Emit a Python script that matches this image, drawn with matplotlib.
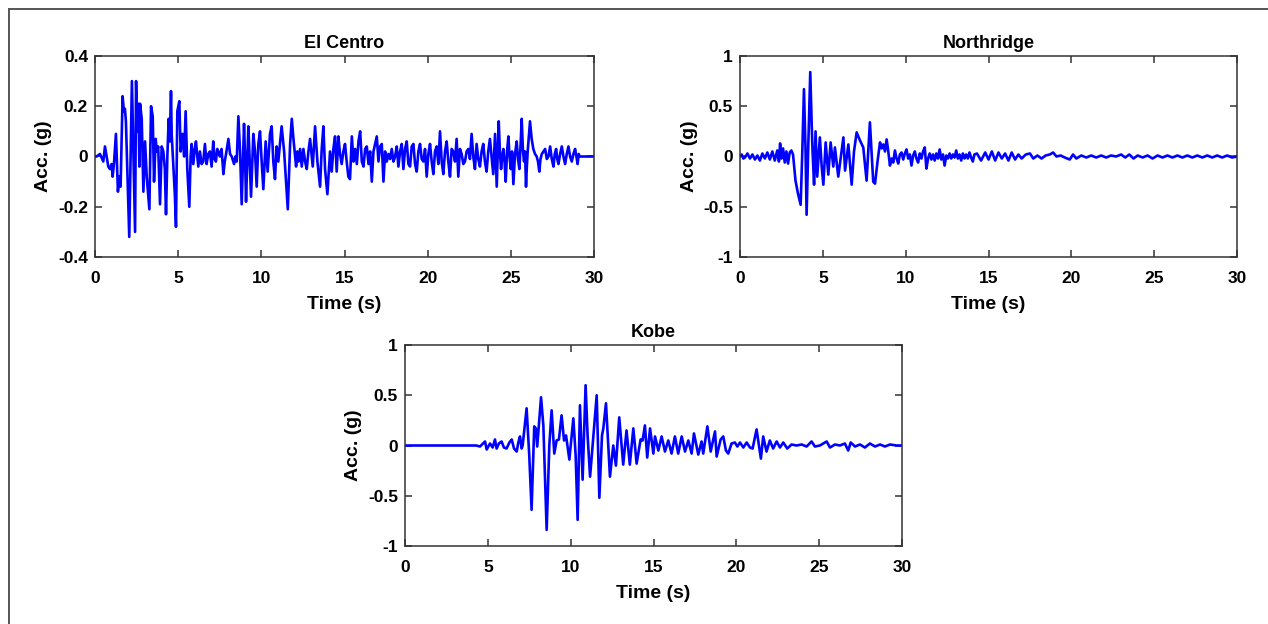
"""
Ground-motion acceleration records (El Centro, Northridge, Kobe) plotted
as three time-history panels.
"""

import matplotlib.pyplot as plt
from matplotlib.lines import Line2D
from matplotlib.ticker import FuncFormatter

plt.rcParams['font.family'] = ['Liberation Sans', 'DejaVu Sans']
plt.rcParams['font.weight'] = 'bold'
plt.rcParams['axes.unicode_minus'] = False

# El Centro record: time (s), acceleration (g)
el_centro_t = [
    0.00, 0.10, 0.30, 0.50, 0.60, 0.70, 0.80, 0.90, 1.00, 1.06, 1.14, 1.26,
    1.38, 1.46, 1.54, 1.66, 1.74, 1.80, 1.86, 1.90, 2.06, 2.22, 2.30, 2.41,
    2.47, 2.55, 2.61, 2.67, 2.71, 2.81, 2.91, 3.01, 3.11, 3.27, 3.37, 3.47,
    3.55, 3.65, 3.71, 3.80, 3.91, 4.01, 4.11, 4.20, 4.27, 4.35, 4.43, 4.50,
    4.57, 4.61, 4.71, 4.80, 4.87, 4.95, 5.07, 5.15, 5.27, 5.36, 5.45, 5.55,
    5.67, 5.75, 5.81, 5.91, 6.00, 6.07, 6.21, 6.31, 6.41, 6.51, 6.61, 6.71,
    6.81, 6.91, 7.01, 7.11, 7.19, 7.27, 7.35, 7.42, 7.51, 7.61, 7.72, 7.80,
    7.88, 7.95, 8.02, 8.12, 8.22, 8.36, 8.44, 8.52,
    8.62, 8.72, 8.82, 8.96, 9.02, 9.08, 9.22, 9.28, 9.38, 9.52, 9.62, 9.72,
    9.82, 9.92, 10.02, 10.12, 10.26, 10.38, 10.52, 10.62, 10.72, 10.82, 10.92,
    11.02, 11.12, 11.22, 11.37, 11.59, 11.73, 11.83, 11.93, 12.09, 12.16,
    12.23, 12.33, 12.43, 12.53, 12.63, 12.73, 12.83, 12.93, 13.09, 13.23,
    13.37, 13.53, 13.63, 13.73, 13.83, 13.97, 14.13, 14.23, 14.33, 14.43,
    14.53, 14.63, 14.73, 14.83, 14.93, 15.03, 15.13,
    15.23, 15.33, 15.44, 15.54, 15.64, 15.74, 15.84, 15.94, 16.04, 16.14,
    16.24, 16.34, 16.44, 16.54, 16.64, 16.74, 16.84, 16.94, 17.04, 17.14,
    17.24, 17.34, 17.44, 17.54, 17.64, 17.74, 17.84, 17.94, 18.04, 18.14,
    18.24, 18.34, 18.44, 18.54, 18.64, 18.74, 18.84, 18.94, 19.04, 19.14,
    19.24, 19.34, 19.44, 19.54, 19.64, 19.74, 19.84, 19.94, 20.04, 20.14,
    20.24, 20.34, 20.44, 20.54, 20.64, 20.74, 20.84, 20.94, 21.04, 21.14,
    21.24, 21.34, 21.44, 21.54, 21.64, 21.74, 21.84, 21.94, 22.04, 22.14,
    22.24, 22.34, 22.44, 22.54, 22.64, 22.74, 22.84, 22.94, 23.04, 23.14,
    23.24, 23.34, 23.44, 23.54, 23.64, 23.74, 23.84, 23.94, 24.05, 24.15,
    24.27, 24.34, 24.41, 24.48, 24.55, 24.62, 24.69, 24.77, 24.85, 24.92,
    24.99, 25.07, 25.15, 25.25, 25.35, 25.43, 25.51, 25.58, 25.65, 25.72,
    25.79, 25.85, 25.91, 25.96, 26.01, 26.08, 26.15, 26.25, 26.35, 26.45,
    26.55, 26.63, 26.71, 26.78, 26.86, 26.96, 27.06, 27.16, 27.26, 27.36,
    27.46, 27.56, 27.64, 27.72, 27.79, 27.86, 27.96, 28.06, 28.16, 28.26,
    28.36, 28.46, 28.56, 28.66, 28.76, 28.86, 28.94, 29.01, 29.08, 29.13,
    30.00,
]
el_centro_acc = [
    0.00, 0.00, 0.01, -0.02, 0.04, 0.00, -0.04, -0.05, -0.03, -0.08, -0.03, 0.09,
    -0.14, -0.08, -0.12, 0.24, 0.18, 0.19, 0.14, 0.05, -0.32, 0.30, 0.05, -0.30,
    0.30, 0.10, 0.21, -0.04, 0.21, 0.15, -0.14, 0.06, -0.08, -0.21, 0.20, 0.16,
    -0.10, 0.07, 0.02, 0.04, -0.19, 0.04, 0.02, -0.05, -0.23, 0.00, 0.15, 0.06,
    0.26, 0.09, -0.04, -0.15, -0.28, 0.18, 0.22, 0.02, 0.09, 0.00, 0.18, -0.05,
    -0.20, 0.00, 0.05, -0.03, 0.03, 0.06, -0.04, 0.02, -0.03, -0.02, 0.05, -0.03,
    0.01, 0.02, -0.04, 0.06, -0.01, -0.02, 0.03, 0.02, 0.00, 0.03, -0.07, -0.02,
    0.01, 0.04, 0.07, 0.01, 0.00, -0.03, 0.00, -0.02,
    0.16, 0.02, -0.19, 0.13, 0.00, -0.18, 0.12, 0.02, -0.16, 0.09, 0.02, -0.12,
    0.05, 0.10, -0.02, -0.13, 0.06, -0.06, 0.09, 0.12, -0.02, -0.09, 0.04,
    -0.02, 0.05, 0.12, 0.02, -0.21, 0.05, 0.15, 0.07, -0.04, 0.02,
    -0.02, 0.03, -0.04, 0.03, -0.02, -0.05, 0.02, 0.07, -0.04, 0.12,
    -0.02, -0.12, 0.03, 0.12, -0.05, -0.15, 0.02, -0.06, 0.03, 0.08,
    -0.06, 0.08, 0.01, -0.03, 0.02, 0.05, -0.02,
    -0.08, -0.09, 0.08, -0.02, 0.03, -0.03, 0.06, 0.10, -0.02, -0.04,
    0.03, 0.04, -0.03, 0.02, -0.10, 0.02, 0.05, 0.08, -0.02, 0.04,
    0.05, -0.10, 0.02, -0.02, 0.01, -0.01, 0.03, -0.02, 0.00, 0.04,
    -0.04, 0.02, 0.05, -0.05, 0.03, 0.06, -0.03, -0.04, 0.04, 0.05,
    -0.03, -0.06, 0.02, 0.05, -0.01, -0.02, 0.03, -0.08, 0.01, 0.05,
    -0.02, -0.07, 0.02, 0.04, -0.03, 0.10, -0.02, -0.07, 0.02, 0.06,
    -0.02, -0.08, 0.03, 0.02, -0.02, 0.07, -0.08, 0.03, 0.01, -0.03,
    -0.02, 0.02, 0.03, -0.01, 0.09, 0.00, -0.05, 0.05, -0.01, -0.04,
    0.02, 0.05, -0.02, -0.06, 0.02, 0.07, 0.00, -0.07, 0.09, -0.12,
    0.14, 0.02, -0.05, 0.00, 0.03, -0.02, -0.10, 0.02, 0.08, 0.00,
    -0.05, 0.02, -0.11, 0.01, 0.06, -0.01, -0.05, 0.04, 0.15, 0.03,
    -0.02, 0.02, -0.12, -0.04, 0.02, 0.08, 0.14, 0.07, 0.03, 0.01,
    0.00, -0.02, -0.06, -0.01, 0.01, 0.02, 0.03, -0.01, 0.00, 0.04,
    -0.01, -0.04, 0.01, 0.03, -0.01, -0.03, 0.01, 0.04, 0.00, -0.03,
    0.01, 0.04, 0.00, -0.02, 0.01, 0.03, 0.00, -0.03, 0.01, 0.00,
    0.00,
]

# Northridge record
northridge_t = [
    0.00, 0.10, 0.20, 0.30, 0.45, 0.60, 0.75, 0.90, 1.05, 1.20, 1.35, 1.50,
    1.65, 1.80, 1.95, 2.10, 2.25, 2.35, 2.42, 2.50, 2.60, 2.70, 2.80, 2.90,
    3.00, 3.10, 3.20, 3.35, 3.50, 3.66, 3.76, 3.86, 3.95, 4.02, 4.12, 4.24,
    4.33, 4.38, 4.47, 4.56, 4.66, 4.82, 4.93, 5.03, 5.17, 5.33, 5.47, 5.63,
    5.73, 5.93, 6.24, 6.34, 6.54, 6.74, 6.88, 7.04, 7.24, 7.44, 7.64, 7.84,
    8.04, 8.15, 8.30, 8.45, 8.55, 8.65, 8.75, 8.85, 8.95, 9.05, 9.15, 9.25,
    9.35, 9.45, 9.55, 9.65, 9.75, 9.85, 9.95, 10.05, 10.15, 10.25, 10.35,
    10.45, 10.55, 10.65, 10.75, 10.85, 10.95, 11.05, 11.15, 11.25, 11.35,
    11.45, 11.55, 11.65, 11.75, 11.85, 11.95, 12.05, 12.15, 12.25, 12.35,
    12.45, 12.55, 12.65, 12.75, 12.85, 12.95, 13.05, 13.15, 13.25, 13.35,
    13.45, 13.55, 13.65, 13.75, 13.85, 13.95, 14.05, 14.15,
    14.30, 14.55, 14.80, 15.00, 15.20, 15.40, 15.60, 15.80, 16.00, 16.20,
    16.40, 16.60, 16.80, 17.00, 17.25, 17.50, 17.70, 17.95, 18.20, 18.45,
    18.70, 18.90, 19.10, 19.35, 19.60, 19.90, 20.10, 20.30, 20.60, 20.90,
    21.20, 21.50, 21.80, 22.10, 22.40, 22.70, 23.00, 23.25, 23.50, 23.75,
    24.00, 24.30, 24.60, 24.90, 25.20, 25.50, 25.80, 26.10, 26.40, 26.70,
    27.00, 27.30, 27.60, 27.90, 28.20, 28.50, 28.80, 29.10, 29.40, 29.70,
    30.00,
]
northridge_acc = [
    0.00, 0.02, -0.02, -0.01, 0.03, -0.02, 0.02, -0.03, 0.01, -0.04, 0.03, -0.02,
    0.04, -0.03, 0.05, -0.04, 0.06, -0.05, 0.13, -0.02, 0.08, -0.06, 0.05, -0.07,
    0.04, 0.06, 0.02, -0.24, -0.37, -0.48, 0.05, 0.67, 0.10, -0.58, 0.10, 0.84,
    0.30, 0.05, -0.28, 0.25, -0.20, 0.19, -0.10, -0.28, 0.14, -0.18, 0.14, -0.10,
    0.09, -0.20, 0.19, -0.14, 0.12, -0.28, 0.05, 0.24, 0.16, 0.09, -0.24, 0.34,
    -0.25, -0.27, -0.05, 0.14, 0.08, 0.12, 0.05, 0.17, 0.05, -0.09, -0.02, -0.06,
    0.06, -0.02, -0.07, 0.02, 0.04, -0.03, 0.03, 0.07, -0.02, 0.02, -0.09,
    0.01, 0.05, -0.02, -0.06, 0.03, -0.02, 0.05, 0.09, -0.12, -0.02,
    0.03, -0.03, 0.02, -0.04, 0.03, -0.02, 0.07, -0.03, 0.02, -0.09,
    0.01, -0.02, 0.03, -0.02, 0.02, -0.01, 0.06, -0.02, 0.02, -0.04,
    0.03, -0.02, 0.02, -0.02, 0.04, -0.01, -0.05, 0.02,
    0.03, -0.04, 0.04, -0.03, 0.05, -0.04, 0.04, -0.02, 0.03, -0.04,
    0.04, -0.03, 0.02, -0.02, 0.02, 0.03, -0.02, 0.01, -0.02, 0.01,
    0.02, 0.04, 0.00, 0.01, -0.01, -0.03, 0.02, -0.02, 0.01, -0.01,
    0.01, -0.01, 0.01, -0.01, 0.01, 0.00, 0.02, -0.01, 0.02, -0.02,
    0.01, -0.01, 0.01, -0.02, 0.01, -0.01, 0.01, -0.01, 0.01, -0.01,
    0.01, -0.01, 0.01, -0.01, 0.01, -0.01, 0.01, -0.01, 0.01, -0.01,
    0.00,
]

# Kobe record
kobe_t = [
    0.00, 4.30, 4.53, 4.83, 4.93, 5.13, 5.29, 5.43, 5.53, 5.67, 5.83, 5.97,
    6.13, 6.30, 6.44, 6.58, 6.74, 6.84, 6.94, 7.04, 7.10, 7.34, 7.50, 7.64,
    7.80, 7.90, 7.98, 8.21, 8.35, 8.55, 8.71, 8.85, 9.01, 9.15, 9.29, 9.45,
    9.60, 9.72, 9.92, 10.16, 10.30, 10.42, 10.56, 10.72, 10.90, 11.02, 11.17,
    11.37, 11.57, 11.73, 11.89, 11.97, 12.13, 12.37, 12.57, 12.73, 12.93,
    13.17, 13.37, 13.57, 13.78, 13.98, 14.22, 14.34, 14.48, 14.62, 14.79,
    14.99, 15.09, 15.29, 15.49, 15.69, 15.89, 16.09, 16.29, 16.49, 16.70,
    16.90, 17.10, 17.30, 17.44, 17.70, 17.90, 18.00, 18.25, 18.45, 18.71,
    18.81, 19.05, 19.21, 19.37, 19.51, 19.71, 19.91, 20.06, 20.22, 20.42,
    20.62, 20.82, 20.98, 21.22, 21.36, 21.48, 21.62, 21.82, 22.02, 22.22,
    22.43, 22.63, 22.83, 23.07, 23.33, 23.63, 23.94, 24.24, 24.54, 24.74,
    25.04, 25.45, 25.65, 25.95, 26.25, 26.55, 26.75, 26.90, 27.16, 27.46,
    27.76, 28.06, 28.37, 28.67, 28.97, 29.27, 29.67, 30.00,
]
kobe_acc = [
    0.00, 0.00, -0.01, 0.04, -0.04, 0.02, -0.02, 0.06, -0.03, 0.02, 0.04, -0.02,
    -0.03, 0.03, 0.06, -0.03, -0.06, 0.03, 0.09, -0.03, 0.00, 0.37, -0.10, -0.64,
    0.19, 0.17, -0.01, 0.48, 0.20, -0.84, 0.00, 0.35, -0.08, 0.05, 0.06, 0.30,
    0.05, 0.10, -0.14, 0.27, -0.10, -0.74, 0.40, -0.34, 0.60, 0.10, -0.31,
    0.10, 0.50, -0.52, 0.10, 0.17, 0.42, -0.31, 0.00, -0.20, 0.28,
    -0.19, 0.15, -0.19, 0.17, -0.18, 0.06, 0.05, 0.20, -0.12, 0.17,
    -0.08, 0.09, -0.05, 0.09, -0.06, 0.05, -0.08, 0.09, -0.08, 0.09,
    -0.06, 0.05, -0.08, 0.12, -0.09, 0.04, -0.08, 0.19, -0.06, 0.14,
    -0.11, 0.06, 0.09, -0.05, -0.08, 0.02, 0.03, -0.01, 0.03, -0.02,
    0.03, -0.02, -0.03, 0.16, 0.00, -0.13, 0.09, -0.06, 0.05, -0.03,
    0.04, -0.02, 0.03, -0.03, 0.01, 0.00, 0.01, -0.01, 0.04, -0.01,
    0.00, 0.04, -0.02, 0.01, 0.00, 0.02, -0.05, 0.03, -0.01, 0.01,
    -0.02, 0.02, -0.01, 0.01, -0.01, 0.01, 0.00, 0.00,
]

LINE_COLOR = "#0000FF"


def draw_record(ax, t, acc, title, ylim, yticks):
    assert len(t) == len(acc), title
    ax.plot(t, acc, color=LINE_COLOR, lw=1.9)
    ax.set_xlim(0, 30)
    ax.set_ylim(*ylim)
    ax.set_xticks(range(0, 31, 5))
    ax.set_yticks(yticks)
    ax.yaxis.set_major_formatter(FuncFormatter(lambda v, _: f"{v:g}"))
    ax.set_title(title, fontsize=13, fontweight="bold", pad=6)
    ax.set_xlabel("Time (s)", fontsize=14, fontweight="bold", labelpad=7)
    ax.set_ylabel("Acc. (g)", fontsize=14, fontweight="bold", labelpad=4)
    ax.tick_params(direction="in", top=True, right=True, length=5,
                   width=1.1, labelsize=12.5, pad=5, color="#333333")
    ax.tick_params(axis="x", pad=10)
    for spine in ax.spines.values():
        spine.set_linewidth(1.1)
        spine.set_color("#333333")


fig = plt.figure(figsize=(12.68, 6.24), dpi=100)

ax1 = fig.add_axes([0.0749, 0.5881, 0.3936, 0.3222])
ax2 = fig.add_axes([0.5836, 0.5881, 0.3920, 0.3222])
ax3 = fig.add_axes([0.3194, 0.1250, 0.3920, 0.3221])

draw_record(ax1, el_centro_t, el_centro_acc, "El Centro",
            (-0.4, 0.4), [-0.4, -0.2, 0, 0.2, 0.4])
draw_record(ax2, northridge_t, northridge_acc, "Northridge",
            (-1, 1), [-1, -0.5, 0, 0.5, 1])
draw_record(ax3, kobe_t, kobe_acc, "Kobe",
            (-1, 1), [-1, -0.5, 0, 0.5, 1])

# outer frame (top and left edges)
x0 = 9 / 1268
y0 = 1 - 9 / 624
fig.add_artist(Line2D([x0, 1.0], [y0, y0], transform=fig.transFigure,
                      color="#555555", lw=1.4))
fig.add_artist(Line2D([x0, x0], [0.0, y0], transform=fig.transFigure,
                      color="#555555", lw=1.4))

fig.savefig("out.png", dpi=100)
